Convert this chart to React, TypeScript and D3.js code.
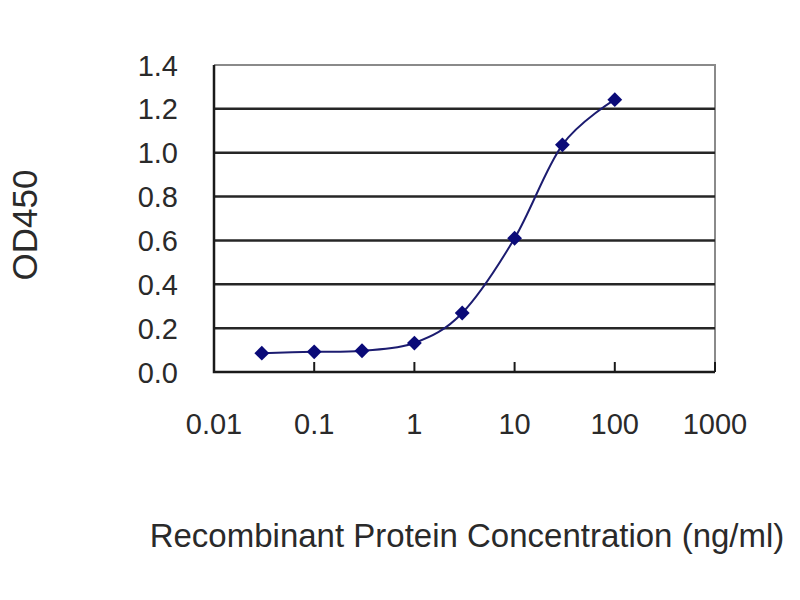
import React, { useEffect, useRef } from "react";
import * as d3 from "d3";

// concentrations (ng/ml) and measured OD450
const concentrations = [0.03, 0.1, 0.3, 1, 3, 10, 30, 100];
const od450 = [0.086, 0.092, 0.097, 0.132, 0.269, 0.61, 1.036, 1.242];

const xTicks = [0.01, 0.1, 1, 10, 100, 1000];
const xTickLabels = ["0.01", "0.1", "1", "10", "100", "1000"];
const yTicks = [0, 0.2, 0.4, 0.6, 0.8, 1.0, 1.2, 1.4];

const xTitle = "Recombinant Protein Concentration (ng/ml)";
const yTitle = "OD450";

export default function App() {
  const ref = useRef<SVGSVGElement>(null);

  useEffect(() => {
    if (!ref.current) return;
    const svg = d3.select(ref.current);
    svg.selectAll("*").remove();

    const left = 214;
    const right = 715;
    const top = 65;
    const bottom = 372;
    const font = "Arial, 'Liberation Sans', sans-serif";

    const x = d3.scaleLog().domain([0.01, 1000]).range([left, right]);
    const y = d3.scaleLinear().domain([0, 1.4]).range([bottom, top]);

    const data = concentrations.map((c, i) => ({ c, v: od450[i] }));

    svg.append("rect").attr("width", 800).attr("height", 600).attr("fill", "#fff");

    // plot frame (top / right lighter)
    svg
      .append("path")
      .attr("d", `M${left},${top}H${right}V${bottom}`)
      .attr("fill", "none")
      .attr("stroke", "#8a8a8a")
      .attr("stroke-width", 2);

    // gridlines
    svg
      .selectAll(".grid")
      .data(yTicks.filter((t) => t > 0 && t < 1.4))
      .enter()
      .append("line")
      .attr("class", "grid")
      .attr("x1", left)
      .attr("x2", right)
      .attr("y1", (d) => y(d))
      .attr("y2", (d) => y(d))
      .attr("stroke", "#262626")
      .attr("stroke-width", 2.5);

    // axes
    svg
      .append("path")
      .attr("d", `M${left},${top}V${bottom}H${right}`)
      .attr("fill", "none")
      .attr("stroke", "#1a1a1a")
      .attr("stroke-width", 2.5);

    // x tick marks
    svg
      .selectAll(".xtick")
      .data(xTicks)
      .enter()
      .append("line")
      .attr("x1", (d) => x(d))
      .attr("x2", (d) => x(d))
      .attr("y1", bottom)
      .attr("y2", bottom - 10)
      .attr("stroke", "#1a1a1a")
      .attr("stroke-width", 2);

    // y tick labels
    svg
      .selectAll(".ylab")
      .data(yTicks)
      .enter()
      .append("text")
      .attr("x", 178)
      .attr("y", (d) => y(d) + 10.5)
      .attr("text-anchor", "end")
      .style("font-family", font)
      .style("font-size", "29px")
      .style("fill", "#2a2a2a")
      .text((d) => d.toFixed(1));

    // x tick labels
    svg
      .selectAll(".xlab")
      .data(xTicks)
      .enter()
      .append("text")
      .attr("x", (d) => x(d))
      .attr("y", 434)
      .attr("text-anchor", "middle")
      .style("font-family", font)
      .style("font-size", "29px")
      .style("fill", "#2a2a2a")
      .text((d, i) => xTickLabels[i]);

    // smoothed line
    const line = d3
      .line<any>()
      .x((d) => x(d.c))
      .y((d) => y(d.v))
      .curve(d3.curveCardinal.tension(0));

    svg
      .append("path")
      .datum(data)
      .attr("fill", "none")
      .attr("stroke", "#1c1c70")
      .attr("stroke-width", 2)
      .attr("d", line);

    // diamond markers
    const diamond = d3.symbol().type(d3.symbolSquare).size(110);
    svg
      .selectAll(".pt")
      .data(data)
      .enter()
      .append("path")
      .attr("d", diamond() as string)
      .attr("transform", (d) => `translate(${x(d.c)},${y(d.v)}) rotate(45)`)
      .attr("fill", "#0a0a78");

    // axis titles
    svg
      .append("text")
      .attr("x", 467)
      .attr("y", 547)
      .attr("text-anchor", "middle")
      .style("font-family", font)
      .style("font-size", "33px")
      .style("fill", "#2a2a2a")
      .text(xTitle);

    svg
      .append("text")
      .attr("transform", "translate(37,225) rotate(-90)")
      .attr("text-anchor", "middle")
      .style("font-family", font)
      .style("font-size", "35px")
      .style("fill", "#2a2a2a")
      .text(yTitle);
  }, []);

  return (
    <svg
      ref={ref}
      width={800}
      height={600}
      style={{ position: "absolute", left: 0, top: 0, display: "block" }}
    />
  );
}
